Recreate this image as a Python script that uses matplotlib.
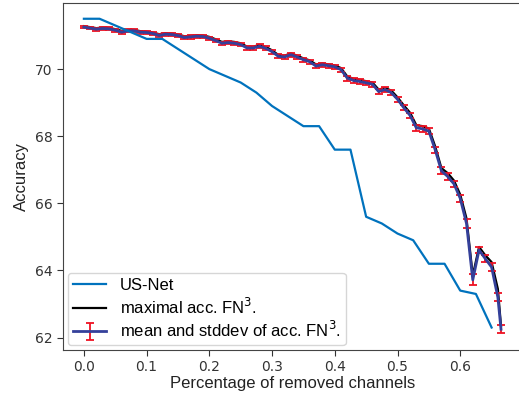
import matplotlib
matplotlib.use("Agg")
import matplotlib.pyplot as plt

# US-Net accuracy vs fraction of removed channels
usnet_x = [0.0, 0.025, 0.05, 0.075, 0.1, 0.125, 0.15, 0.175, 0.2, 0.225, 0.25,
           0.275, 0.3, 0.325, 0.35, 0.375, 0.4, 0.425, 0.45, 0.475, 0.5, 0.525,
           0.55, 0.575, 0.6, 0.625, 0.65]
usnet_acc = [71.5, 71.5, 71.3, 71.1, 70.9, 70.9, 70.6, 70.3, 70.0, 69.8, 69.6,
             69.3, 68.9, 68.6, 68.3, 68.3, 67.6, 67.6, 65.6, 65.4, 65.1, 64.9,
             64.2, 64.2, 63.4, 63.3, 62.3]

# FN3 results
fn3_x = [0.00, 0.01, 0.02, 0.03, 0.04, 0.05, 0.06, 0.07, 0.08, 0.09,
         0.10, 0.11, 0.12, 0.13, 0.14, 0.15, 0.16, 0.17, 0.18, 0.19,
         0.20, 0.21, 0.22, 0.23, 0.24, 0.25, 0.26, 0.27, 0.28, 0.29,
         0.30, 0.31, 0.32, 0.33, 0.34, 0.35, 0.36, 0.37, 0.38, 0.39,
         0.40, 0.41, 0.42, 0.43, 0.44, 0.45, 0.46, 0.47, 0.48, 0.49,
         0.50, 0.51, 0.52, 0.53, 0.54, 0.55, 0.56, 0.57, 0.58, 0.59,
         0.60, 0.61, 0.62, 0.63, 0.64, 0.65, 0.66, 0.665]
fn3_mean = [71.25, 71.22, 71.19, 71.21, 71.20, 71.16, 71.10, 71.14, 71.14, 71.10,
            71.09, 71.06, 71.00, 71.04, 71.03, 71.00, 70.94, 70.96, 70.98, 70.97,
            70.92, 70.85, 70.77, 70.79, 70.77, 70.73, 70.63, 70.63, 70.68, 70.62,
            70.52, 70.38, 70.36, 70.43, 70.36, 70.28, 70.22, 70.09, 70.13, 70.10,
            70.07, 69.98, 69.73, 69.66, 69.63, 69.59, 69.55, 69.33, 69.39, 69.30,
            69.10, 68.85, 68.62, 68.25, 68.22, 68.15, 67.60, 66.97, 66.80, 66.58,
            66.15, 65.40, 63.72, 64.61, 64.35, 64.10, 63.20, 62.25]
fn3_max = [71.28, 71.25, 71.22, 71.24, 71.23, 71.19, 71.14, 71.17, 71.17, 71.13,
           71.12, 71.09, 71.04, 71.07, 71.06, 71.03, 70.98, 70.99, 71.01, 71.00,
           70.96, 70.89, 70.81, 70.83, 70.81, 70.77, 70.67, 70.67, 70.72, 70.66,
           70.56, 70.42, 70.40, 70.47, 70.40, 70.32, 70.26, 70.14, 70.17, 70.14,
           70.11, 70.03, 69.78, 69.71, 69.68, 69.64, 69.60, 69.39, 69.44, 69.36,
           69.16, 68.92, 68.70, 68.33, 68.30, 68.23, 67.70, 67.05, 66.90, 66.68,
           66.26, 65.55, 63.85, 64.70, 64.45, 64.25, 63.45, 62.35]
fn3_std = [0.04, 0.04, 0.04, 0.04, 0.04, 0.04, 0.04, 0.04, 0.04, 0.04,
           0.04, 0.04, 0.05, 0.05, 0.05, 0.05, 0.05, 0.05, 0.05, 0.05,
           0.05, 0.05, 0.05, 0.05, 0.05, 0.05, 0.06, 0.06, 0.06, 0.06,
           0.06, 0.06, 0.06, 0.06, 0.06, 0.06, 0.06, 0.06, 0.06, 0.06,
           0.06, 0.06, 0.07, 0.07, 0.07, 0.07, 0.07, 0.07, 0.08, 0.08,
           0.08, 0.08, 0.08, 0.08, 0.09, 0.09, 0.09, 0.10, 0.10, 0.10,
           0.11, 0.12, 0.16, 0.10, 0.10, 0.12, 0.12, 0.12]

fig = plt.figure(figsize=(5.19, 3.93), dpi=100)
ax = fig.add_axes([0.1214, 0.1094, 0.8838, 0.883])

ax.plot(usnet_x, usnet_acc, color="#0072bd", lw=1.6, label="US-Net", zorder=3)
ax.plot(fn3_x, fn3_max, color="black", lw=1.6, label="maximal acc. FN$^3$.", zorder=2)
ax.errorbar(fn3_x, fn3_mean, yerr=fn3_std, color="#34409a", lw=2,
            ecolor="#ee1122", elinewidth=1.3, capsize=3, capthick=1.3,
            label="mean and stddev of acc. FN$^3$.", zorder=2.5)

ax.set_xlim(-0.0333, 0.698)
ax.set_ylim(61.63, 71.97)
ax.set_xticks([0.0, 0.1, 0.2, 0.3, 0.4, 0.5, 0.6])
ax.set_yticks([62, 64, 66, 68, 70])
ax.tick_params(labelsize=10, colors="#333333", length=4)
for s in ax.spines.values():
    s.set_color("#444444")

ax.set_xlabel("Percentage of removed channels", fontsize=12, labelpad=1,
              family="Liberation Sans", color="#222222")
ax.set_ylabel("Accuracy", fontsize=12, family="Liberation Sans", color="#222222")

ax.legend(loc="lower left", prop={"family": "Liberation Sans", "size": 12},
          handlelength=2, borderaxespad=0.3, borderpad=0.3, labelspacing=0.2,
          framealpha=0.8, edgecolor="#cccccc")

fig.savefig("out.png", dpi=100)
